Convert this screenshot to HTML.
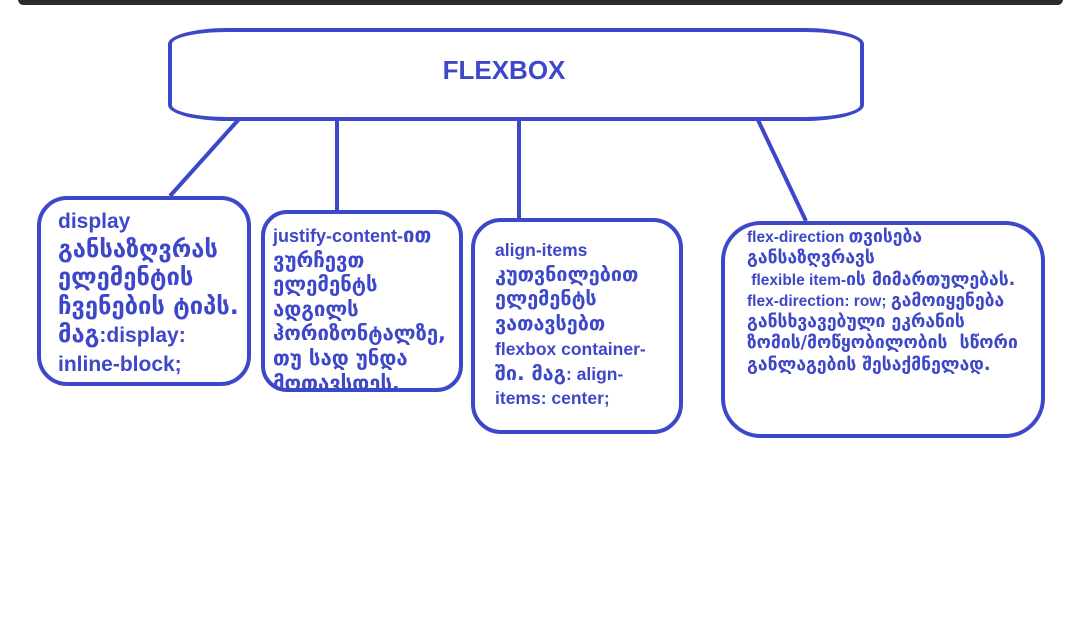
<!DOCTYPE html>
<html><head><meta charset="utf-8"><style>
body{margin:0;width:1085px;height:633px;background:#fff;position:relative;overflow:hidden;font-family:"Liberation Sans","DejaVu Sans",sans-serif;font-weight:bold;color:#3d47c9}
.bar{position:absolute;left:18px;top:-6px;width:1045px;height:11px;background:#2b2b2b;border-radius:6px}
.b{position:absolute;border:4px solid #3d47c9;box-sizing:border-box;background:#fff}
.t{position:absolute;white-space:nowrap}
.g{font-family:"DejaVu Sans",sans-serif;font-size:1.13em;line-height:0}
</style></head><body>
<div class="bar"></div>
<svg width="1085" height="633" style="position:absolute;left:0;top:0">
<g stroke="#3d47c9" stroke-width="4" fill="none">
<line x1="240" y1="118" x2="170" y2="196"/>
<line x1="337" y1="118" x2="337" y2="213"/>
<line x1="519" y1="118" x2="519" y2="219"/>
<line x1="758" y1="120" x2="806" y2="221"/>
</g></svg>
<div class="b" style="left:168px;top:28px;width:696px;height:93px;border-radius:60px/16px"></div>
<div class="t" style="left:0;width:1008px;top:55px;text-align:center;font-size:26px">FLEXBOX</div>
<div class="b" style="left:37px;top:196px;width:214px;height:190px;border-radius:30px"></div>
<div class="t" style="left:58px;top:208px;font-size:21px;line-height:28.5px">display<br><span class="g">განსაზღვრას</span><br><span class="g">ელემენტის</span><br><span class="g">ჩვენების ტიპს.</span><br><span class="g">მაგ</span>:display:<br>inline-block;</div>
<div class="b" style="left:261px;top:210px;width:202px;height:182px;border-radius:26px;overflow:hidden"><div class="t" style="left:8px;top:10px;font-size:18px;line-height:24.6px">justify-content-<span class="g">ით</span><br><span class="g">ვურჩევთ</span><br><span class="g">ელემენტს</span><br><span class="g">ადგილს</span><br><span class="g">ჰორიზონტალზე,</span><br><span class="g">თუ სად უნდა</span><br><span class="g">მოთავსდეს.</span></div></div>
<div class="b" style="left:471px;top:218px;width:212px;height:216px;border-radius:30px"></div>
<div class="t" style="left:495px;top:238px;font-size:17.5px;line-height:24.7px">align-items<br><span class="g">კუთვნილებით</span><br><span class="g">ელემენტს</span><br><span class="g">ვათავსებთ</span><br>flexbox container-<br><span class="g">ში. მაგ</span>: align-<br>items: center;</div>
<div class="b" style="left:721px;top:221px;width:324px;height:217px;border-radius:40px"></div>
<div class="t" style="left:747px;top:227px;font-size:15.5px;line-height:21.3px">flex-direction <span class="g">თვისება</span><br><span class="g">განსაზღვრავს</span><br>&nbsp;flexible item-<span class="g">ის მიმართულებას.</span><br>flex-direction: row; <span class="g">გამოიყენება</span><br><span class="g">განსხვავებული ეკრანის</span><br><span class="g">ზომის/მოწყობილობის&nbsp; სწორი</span><br><span class="g">განლაგების შესაქმნელად.</span></div>
</body></html>
